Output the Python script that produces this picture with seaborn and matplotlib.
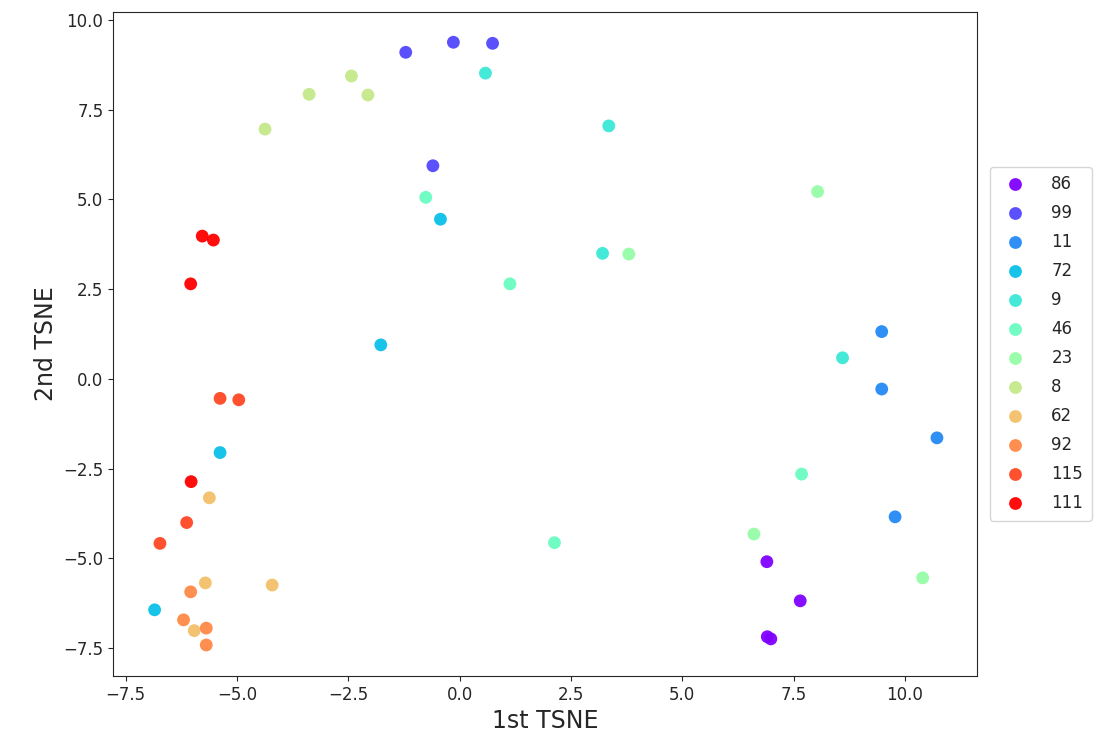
import numpy as np
import pandas as pd
import matplotlib
matplotlib.use("Agg")
import matplotlib.pyplot as plt
import seaborn as sns

# class labels in legend order
labels = ["86", "99", "11", "72", "9", "46", "23", "8", "62", "92", "115", "111"]

# t-SNE coordinates, 4 points per class
tsne_x = {
    "86": [6.90, 7.65, 6.91, 6.99],
    "99": [-1.21, -0.14, 0.74, -0.60],
    "11": [9.48, 9.48, 10.72, 9.78],
    "72": [-0.43, -1.77, -5.38, -6.85],
    "9": [0.58, 3.35, 8.60, 3.21],
    "46": [-0.76, 1.13, 2.13, 7.68],
    "23": [8.04, 6.61, 10.40, 3.80],
    "8": [-2.43, -3.38, -2.06, -4.37],
    "62": [-5.62, -5.71, -4.21, -5.96],
    "92": [-6.04, -6.20, -5.69, -5.69],
    "115": [-5.38, -4.96, -6.13, -6.73],
    "111": [-5.78, -5.53, -6.04, -6.03],
}
tsne_y = {
    "86": [-5.09, -6.18, -7.18, -7.24],
    "99": [9.10, 9.38, 9.35, 5.94],
    "11": [1.32, -0.28, -1.64, -3.84],
    "72": [4.45, 0.95, -2.05, -6.43],
    "9": [8.52, 7.05, 0.59, 3.50],
    "46": [5.06, 2.65, -4.56, -2.65],
    "23": [5.22, -4.32, -5.54, 3.48],
    "8": [8.44, 7.93, 7.91, 6.96],
    "62": [-3.31, -5.68, -5.74, -7.01],
    "92": [-5.93, -6.71, -6.94, -7.41],
    "115": [-0.54, -0.58, -4.00, -4.58],
    "111": [3.98, 3.87, 2.65, -2.86],
}

rows = []
for lab in labels:
    for x, y in zip(tsne_x[lab], tsne_y[lab]):
        rows.append({"x": x, "y": y, "label": lab})
df = pd.DataFrame(rows)

sns.set_style("ticks")
colors = plt.cm.rainbow(np.linspace(0, 1, len(labels)))

fig = plt.figure(figsize=(10.99, 7.56), dpi=100)
ax = fig.add_axes([0.103, 0.106, 0.786, 0.878])

sns.scatterplot(data=df, x="x", y="y", hue="label", hue_order=labels,
                palette=list(colors), s=85, linewidth=0, alpha=0.95, ax=ax)

ax.set_xlim(-7.78, 11.62)
ax.set_ylim(-8.27, 10.22)
ax.set_xticks([-7.5, -5.0, -2.5, 0.0, 2.5, 5.0, 7.5, 10.0])
ax.set_yticks([-7.5, -5.0, -2.5, 0.0, 2.5, 5.0, 7.5, 10.0])
ax.tick_params(labelsize=12)
ax.set_xlabel("1st TSNE", fontsize=17)
ax.set_ylabel("2nd TSNE", fontsize=17)

ax.legend(loc="center left", bbox_to_anchor=(1.005, 0.5), fontsize=12,
          labelspacing=0.66, handletextpad=1.2, borderpad=0.5)

fig.savefig("out.png", dpi=100)
